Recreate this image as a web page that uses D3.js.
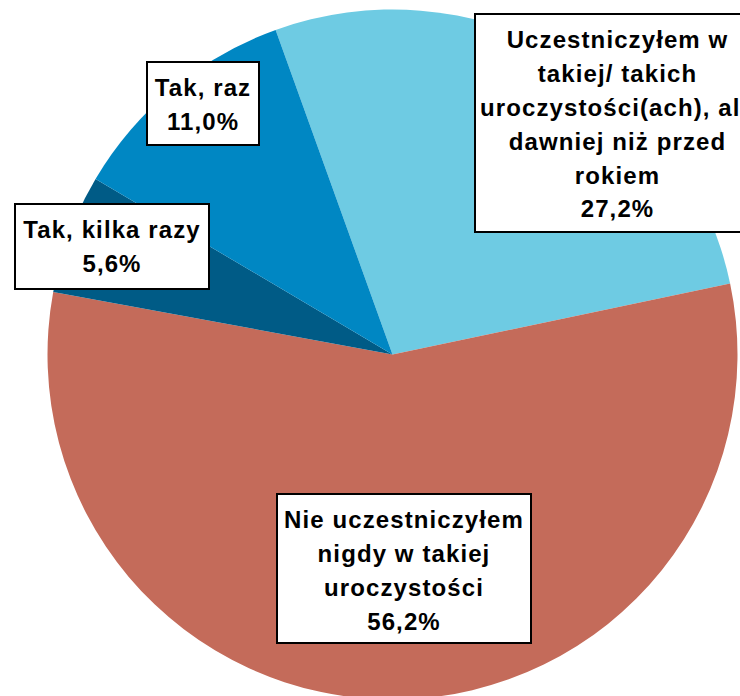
<!DOCTYPE html>
<html>
<head>
<meta charset="utf-8">
<script src="https://cdn.jsdelivr.net/npm/d3@7"></script>
<style>
  html, body { margin: 0; padding: 0; background: #fff; }
  svg { display: block; }
  .lbl text { font-family: "Liberation Sans", Arial, sans-serif; font-weight: bold; font-size: 24px; letter-spacing: 1.1px; fill: #000; }
</style>
</head>
<body>
<svg id="chart"></svg>
<script>
// data
const categories = [
  "Uczestniczyłem w takiej/ takich uroczystości(ach), ale dawniej niż przed rokiem",
  "Nie uczestniczyłem nigdy w takiej uroczystości",
  "Tak, kilka razy",
  "Tak, raz"
];
const values = [27.2, 56.2, 5.6, 11.0];
const valueLabels = ["27,2%", "56,2%", "5,6%", "11,0%"];
const labelLines = [
  ["Uczestniczyłem w", "takiej/ takich", "uroczystości(ach), ale", "dawniej niż przed", "rokiem"],
  ["Nie uczestniczyłem", "nigdy w takiej", "uroczystości"],
  ["Tak, kilka razy"],
  ["Tak, raz"]
];
const colors = ["#6ecbe3", "#c46b5a", "#005b86", "#0087c3"];

// label boxes (layout only): x0, y0, x1, y1
const boxes = [
  [475, 14, 760, 232],
  [277, 494, 531, 643],
  [15, 204, 209, 289],
  [147, 62, 259, 145]
];

const width = 740, height = 696;
const cx = 392.5, cy = 354.5, radius = 345;
const start = -19.8 * Math.PI / 180;

const svg = d3.select("#chart").attr("width", width).attr("height", height);

const pie = d3.pie().sort(null).startAngle(start).endAngle(start + 2 * Math.PI);
const arc = d3.arc().innerRadius(0).outerRadius(radius);

const arcs = pie(values);

svg.append("g")
  .attr("transform", `translate(${cx},${cy})`)
  .selectAll("path")
  .data(arcs)
  .join("path")
  .attr("d", arc)
  .attr("fill", (d, i) => colors[i]);

// labels
const lbl = svg.append("g").attr("class", "lbl")
  .selectAll("g")
  .data(categories)
  .join("g");

lbl.append("rect")
  .attr("x", (d, i) => boxes[i][0])
  .attr("y", (d, i) => boxes[i][1])
  .attr("width", (d, i) => boxes[i][2] - boxes[i][0])
  .attr("height", (d, i) => boxes[i][3] - boxes[i][1])
  .attr("fill", "#fff")
  .attr("stroke", "#000")
  .attr("stroke-width", 2);

lbl.each(function (d, i) {
  const g = d3.select(this);
  const b = boxes[i];
  const lines = labelLines[i].concat([valueLabels[i]]);
  const mid = (b[0] + b[2]) / 2;
  lines.forEach((t, k) => {
    g.append("text")
      .attr("x", mid)
      .attr("y", b[1] + 26 + k * 33.8)
      .attr("dy", "0.35em")
      .attr("text-anchor", "middle")
      .text(t);
  });
});
</script>
</body>
</html>
